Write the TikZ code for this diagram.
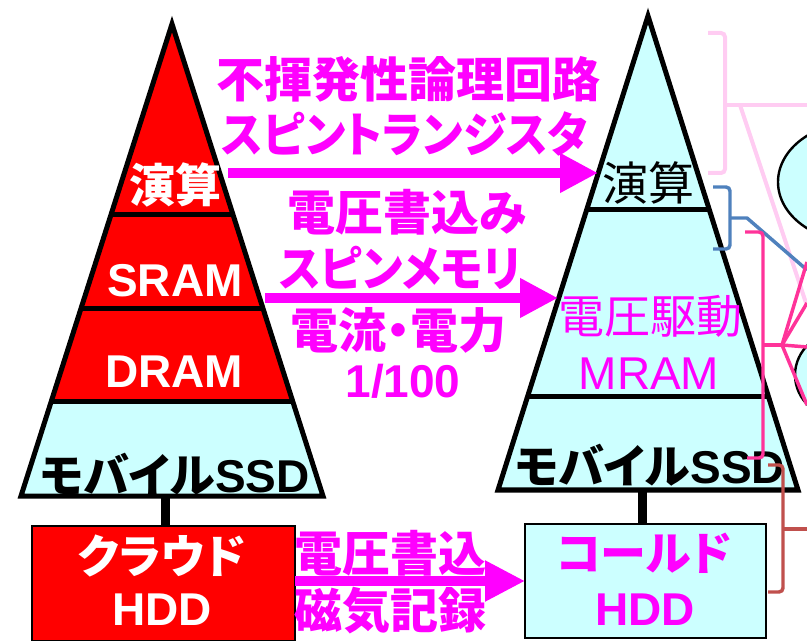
\documentclass[tikz,border=0pt]{standalone}
\usepackage{graphicx}
\usepackage{fontspec}
\setmainfont{Liberation Sans}
\newfontfamily\jp[RawFeature=+palt]{Noto Sans CJK JP}
\usetikzlibrary{arrows.meta}
\definecolor{mag}{HTML}{FF00FF}
\definecolor{cy}{HTML}{CCFFFF}
\definecolor{lpink}{HTML}{FFCCF2}
\definecolor{bblue}{HTML}{4F81BD}
\definecolor{hpink}{HTML}{FF3399}
\definecolor{bred}{HTML}{C0504D}
\newcommand\pxs[1]{\fontsize{\dimexpr #1pt*3/4\relax}{\dimexpr #1pt*3/4\relax}\selectfont}
\begin{document}
\begin{tikzpicture}[x=0.75pt,y=-0.75pt,
  txt/.style={inner sep=0pt, anchor=center},
  wlbl/.style={txt, text=white, font=\pxs{46}\bfseries},
  mlbl/.style={txt, text=mag, font=\pxs{48}\bfseries},
  arr/.style={draw=mag, line width=7pt, -{Triangle[length=28.5pt,width=28pt]}},
  barr/.style={draw=mag, line width=7pt, -{Triangle[length=30pt,width=29pt]}},
  outline/.style={line width=3.75pt, line join=miter},
  divider/.style={line width=3.75pt},
  stem/.style={line width=6.75pt},
  boxstyle/.style={draw=black, line width=1.5pt},
  brace/.style={line width=2.6pt, rounded corners=3pt},
  bline/.style={line width=2.6pt}]
\useasboundingbox (0,0) rectangle (807,641);
\begin{scope}
\clip (0,0) rectangle (807,641);

% ---------- left triangle ----------
\begin{scope}
  \clip (172,24) -- (323,496) -- (21,496) -- cycle;
  \fill[red] (0,0) rectangle (400,402);
  \fill[cy] (0,402) rectangle (400,500);
  \draw[divider] (0,215) -- (400,215) (0,309) -- (400,309) (0,402) -- (400,402);
\end{scope}
\draw[outline] (172,24) -- (323,496) -- (21,496) -- cycle;

% ---------- right triangle ----------
\begin{scope}
  \clip (648,16) -- (798,490) -- (498,490) -- cycle;
  \fill[cy] (450,0) rectangle (820,500);
  \draw[divider] (450,210) -- (820,210) (450,397) -- (820,397);
\end{scope}
\draw[outline] (648,16) -- (798,490) -- (498,490) -- cycle;

% ---------- stems and boxes ----------
\coordinate (lbase) at (165,496);
\coordinate (ltop) at (165,526);
\coordinate (rbase) at (642,490);
\coordinate (rtop) at (642,524);
\draw[stem] (lbase) -- (ltop);
\draw[stem] (rbase) -- (rtop);
\filldraw[boxstyle, fill=red] (32,526) rectangle (295,641);
\filldraw[boxstyle, fill=cy] (525,524) rectangle (766,638);

% ---------- labels in left triangle ----------
\node[wlbl] (lcalc) at (175,185) {\jp 演算};
\node[wlbl] (lsram) at (175,281) {SRAM};
\node[wlbl] (ldram) at (174,372) {DRAM};
\node[txt, font=\pxs{46}\bfseries] (lssd) at (175,474) {{\jp モバイル}SSD};

% ---------- labels in right triangle ----------
\node[txt, font=\pxs{46}] (rcalc) at (648,183) {\jp 演算};
\node[txt, text=mag, font=\pxs{46}] (rmram1) at (650,316) {\jp 電圧駆動};
\node[txt, text=mag, font=\pxs{46}] (rmram2) at (649,374) {MRAM};
\node[txt, font=\pxs{46}\bfseries] (rssd) at (650,465) {{\jp モバイル}SSD};

% ---------- box labels ----------
\node[wlbl] (lbox1) at (162,556) {\jp クラウド};
\node[wlbl] (lbox2) at (162,610) {HDD};
\node[txt, text=mag, font=\pxs{46}\bfseries] (rbox1) at (644,553) {\jp コールド};
\node[txt, text=mag, font=\pxs{46}\bfseries] (rbox2) at (645,610) {HDD};

% ---------- arrows ----------
\coordinate (a1s) at (228,173);
\coordinate (a1e) at (598,173);
\coordinate (a2s) at (265,298);
\coordinate (a2e) at (558,298);
\coordinate (a3s) at (295,581);
\coordinate (a3e) at (525,581);
\draw[arr] (a1s) -- (a1e);
\draw[arr] (a2s) -- (a2e);
\draw[barr] (a3s) -- (a3e);

% ---------- arrow labels ----------
\node[mlbl] (t1a) at (408,79) {\jp 不揮発性論理回路};
\node[mlbl] (t1b) at (405,134) {\scalebox{0.92}[1]{\jp スピントランジスタ}};
\node[mlbl] (t2a) at (407,212) {\jp 電圧書込み};
\node[mlbl] (t2b) at (400,268) {\scalebox{0.92}[1]{\jp スピンメモリ}};
\node[mlbl] (t2c) at (398,330) {\jp 電流・電力};
\node[mlbl, font=\pxs{46}\bfseries] (t2d) at (403,381) {1/100};
\node[mlbl] (t3a) at (390,553) {\jp 電圧書込};
\node[mlbl] (t3b) at (390,611) {\jp 磁気記録};

% ---------- ellipses on the right ----------
\filldraw[fill=cy, draw=black, line width=1.8pt] (858,182) ellipse [x radius=80, y radius=60];
\filldraw[fill=cy, draw=black, line width=1.8pt] (845,375) ellipse [x radius=50, y radius=45];

% ---------- braces ----------
% light pink
\coordinate (lpc) at (725,105);
\coordinate (lpe1) at (807,105);
\coordinate (lpd) at (740,105);
\coordinate (lpe2) at (807,306);
\draw[brace, lpink, line width=3pt] (708,33) -- (725,33) -- (725,173) -- (708,173);
\draw[bline, lpink, line width=3pt] (lpc) -- (lpe1);
\draw[bline, lpink, line width=3pt] (lpd) -- (lpe2);
% blue
\coordinate (blc) at (730,218);
\coordinate (blk) at (747,218);
\coordinate (ble) at (807,270);
\draw[brace, bblue] (713,187) -- (730,187) -- (730,249) -- (713,249);
\draw[bline, bblue, line join=round] (blc) -- (blk) -- (ble);
% hot pink
\coordinate (hpc) at (763,345);
\coordinate (hpf) at (782,345);
\coordinate (hpe1) at (807,262);
\coordinate (hpe2) at (807,303);
\coordinate (hpe3) at (807,347);
\coordinate (hpe4) at (807,405);
\draw[brace, hpink] (745,232) -- (763,232) -- (763,458) -- (747,458);
\draw[bline, hpink] (hpc) -- (hpf);
\draw[bline, hpink] (hpf) -- (hpe1);
\draw[bline, hpink] (hpf) -- (hpe2);
\draw[bline, hpink] (hpf) -- (hpe3);
\draw[bline, hpink] (hpf) -- (hpe4);
% brown red
\coordinate (brc) at (783,529);
\coordinate (bre) at (807,529);
\draw[brace, bred] (768,465) -- (783,465) -- (783,592) -- (768,592);
\draw[bline, bred] (brc) -- (bre);
\end{scope}
\end{tikzpicture}
\end{document}
